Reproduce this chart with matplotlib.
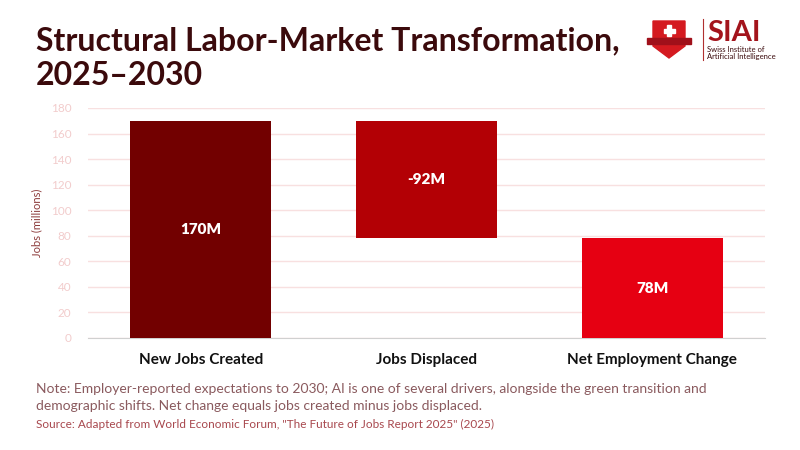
import numpy as np
import matplotlib.pyplot as plt
from matplotlib.patches import Polygon, Rectangle

plt.rcParams['font.family'] = ['Lato', 'DejaVu Sans']

# data
categories = ['New Jobs Created', 'Jobs Displaced', 'Net Employment Change']
created = 170
displaced = 92
net = 78
bar_labels = ['170M', '-92M', '78M']
colors = ['#720000', '#b30005', '#e60012']

heights = [created, displaced, net]
bottoms = [0, created - displaced, 0]

fig = plt.figure(figsize=(8, 4.5), dpi=100)
fig.patch.set_facecolor('white')

# plot area in pixels: x 88..765, y 108..338
ax = fig.add_axes([88 / 800, 1 - 338 / 450, 677 / 800, 230 / 450])
x = np.arange(len(categories))
bars = ax.bar(x, heights, bottom=bottoms, width=0.625, color=colors, zorder=3)
for b, lab in zip(bars, bar_labels):
    ax.text(b.get_x() + b.get_width() / 2, b.get_y() + b.get_height() / 2, lab,
            ha='center', va='center', color='white', fontsize=11, fontweight='heavy', zorder=4)

ax.set_xlim(-0.5, 2.5)
ax.set_ylim(0, 180)
ax.set_yticks(np.arange(0, 181, 20))
ax.grid(axis='y', color='#f8e0e0', lw=1, zorder=0)
ax.tick_params(axis='y', length=0, labelsize=8.5, labelcolor='#f2cccc', pad=12)
ax.tick_params(axis='x', length=0, labelsize=11, pad=11)
ax.set_xticks(x)
ax.set_xticklabels(categories, fontweight='bold', color='#111111')
for s in ['top', 'right', 'left']:
    ax.spines[s].set_visible(False)
ax.spines['bottom'].set_color('#d0d0d0')
ax.set_ylabel('Jobs (millions)', fontsize=8, color='#8c3a3a', labelpad=6)

# title
title_color = '#3b0a0c'
fig.text(36 / 800, 1 - 50 / 450, 'Structural Labor-Market Transformation,',
         fontsize=23, fontweight='bold', color=title_color, ha='left', va='baseline')
fig.text(36 / 800, 1 - 85 / 450, '2025\u20132030',
         fontsize=23, fontweight='bold', color=title_color, ha='left', va='baseline')

# notes
note_color = '#8a5a5e'
fig.text(36 / 800, 1 - 393 / 450,
         'Note: Employer-reported expectations to 2030; AI is one of several drivers, alongside the green transition and',
         fontsize=10, color=note_color, ha='left', va='baseline')
fig.text(36 / 800, 1 - 410 / 450,
         'demographic shifts. Net change equals jobs created minus jobs displaced.',
         fontsize=10, color=note_color, ha='left', va='baseline')
fig.text(36 / 800, 1 - 428 / 450,
         'Source: Adapted from World Economic Forum, "The Future of Jobs Report 2025" (2025)',
         fontsize=8.5, color='#a8484e', ha='left', va='baseline')

# logo
lax = fig.add_axes([645 / 800, 1 - 62 / 450, 130 / 800, 46 / 450])
lax.set_xlim(0, 130)
lax.set_ylim(46, 0)
lax.axis('off')
shield = Polygon([(8, 5), (40, 5), (40, 30), (24, 42), (8, 30)], closed=True,
                 color='#d41a20')
lax.add_patch(shield)
lax.add_patch(Rectangle((2, 22), 44, 6, color='#a0101a'))
lax.add_patch(Rectangle((22, 9), 4, 11, color='white'))
lax.add_patch(Rectangle((18.5, 12.5), 11, 4, color='white'))
lax.plot([58, 58], [3, 44], color='#b03030', lw=0.8)
lax.text(62, 25, 'SIAI', fontsize=21, fontweight='bold', color='#a3141c',
         ha='left', va='baseline')
lax.text(62, 36, 'Swiss Institute of', fontsize=5.5, color='#3b0a0c', ha='left', va='baseline')
lax.text(62, 43, 'Artificial Intelligence', fontsize=5.5, color='#3b0a0c', ha='left', va='baseline')

fig.savefig('out.png', dpi=100)
